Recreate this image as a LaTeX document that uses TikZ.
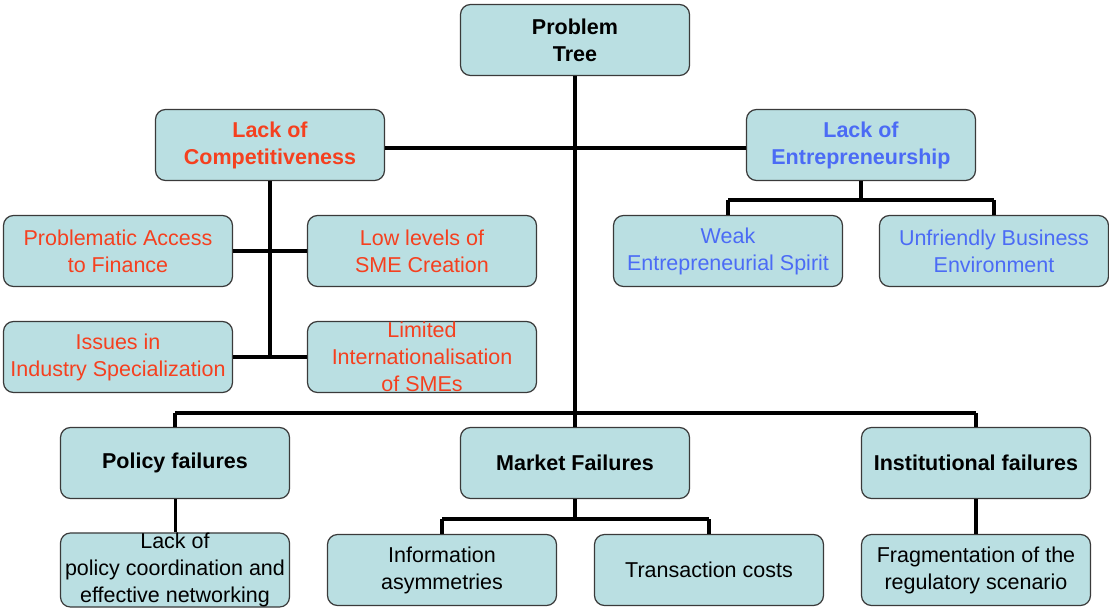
\documentclass[tikz,border=0pt]{standalone}
\usepackage{fontspec}
\setmainfont{Liberation Sans}
\definecolor{boxfill}{HTML}{BADFE2}
\definecolor{boxline}{HTML}{3A3A3A}
\definecolor{redtxt}{HTML}{F5401F}
\definecolor{bluetxt}{HTML}{4B6BF5}
\tikzset{
  box/.style={draw=boxline, line width=1.2pt, fill=boxfill, rounded corners=10pt,
    minimum width=229pt, minimum height=71pt, inner sep=0pt, align=center,
    font=\fontsize{21.5}{27}\selectfont},
  hdr/.style={box, font=\fontsize{21.5}{27}\selectfont\bfseries},
  conn/.style={line width=3.6pt, black},
}
\begin{document}
\begin{tikzpicture}[x=1pt,y=-1pt]
\useasboundingbox (0,0) rectangle (1109,608);
% level 0
\node[hdr] (pt) at (575,40) {Problem\\Tree};
% level 1
\node[hdr, text=redtxt] (lc) at (270,145) {Lack of\\Competitiveness};
\node[hdr, text=bluetxt] (le) at (861,145) {Lack of\\Entrepreneurship};
% competitiveness children
\node[box, text=redtxt] (paf) at (118,251) {Problematic Access\\to Finance};
\node[box, text=redtxt] (low) at (422,251) {Low levels of\\SME Creation};
\node[box, text=redtxt] (iis) at (118,357) {Issues in\\Industry Specialization};
\node[box, text=redtxt] (lim) at (422,357) {Limited\\Internationalisation\\of SMEs};
% entrepreneurship children
\node[box, text=bluetxt] (wes) at (728,251) {Weak\\Entrepreneurial Spirit};
\node[box, text=bluetxt] (ube) at (994,251) {Unfriendly Business\\Environment};
% failures
\node[hdr] (pf) at (175,463) {Policy failures};
\node[hdr] (mf) at (575,463) {Market Failures};
\node[hdr] (inf) at (976,463) {Institutional failures};
\node[box] (lpc) at (175,570) {Lack of\\policy coordination and\\effective networking};
\node[box] (ia) at (442,570) {Information\\asymmetries};
\node[box] (tc) at (709,570) {Transaction costs};
\node[box] (frg) at (976,570) {Fragmentation of the\\regulatory scenario};
% bus coordinates
\coordinate (busB) at (575,413);
\coordinate (busE) at (861,200);
\coordinate (busM) at (575,519);
% connectors
\draw[conn] (pt.south) -- (busB);
\draw[conn] (lc.east |- 0,148) -- (le.west |- 0,148);
\draw[conn] (pf.north |- busB) -- (inf.north |- busB);
\draw[conn] (pf.north |- busB) -- (pf.north);
\draw[conn] (mf.north |- busB) -- (mf.north);
\draw[conn] (inf.north |- busB) -- (inf.north);
% competitiveness tree
\draw[conn] (lc.south) -- (lc.south |- iis.east);
\draw[conn] (paf.east) -- (low.west);
\draw[conn] (iis.east) -- (lim.west);
% entrepreneurship tree
\draw[conn] (le.south) -- (busE);
\draw[conn] (wes.north |- busE) -- (ube.north |- busE);
\draw[conn] (wes.north |- busE) -- (wes.north);
\draw[conn] (ube.north |- busE) -- (ube.north);
% failures children
\draw[line width=3pt] (pf.south) -- (lpc.north);
\draw[conn] (mf.south) -- (busM);
\draw[conn] (ia.north |- busM) -- (tc.north |- busM);
\draw[conn] (ia.north |- busM) -- (ia.north);
\draw[conn] (tc.north |- busM) -- (tc.north);
\draw[conn] (inf.south) -- (frg.north);
\end{tikzpicture}
\end{document}
